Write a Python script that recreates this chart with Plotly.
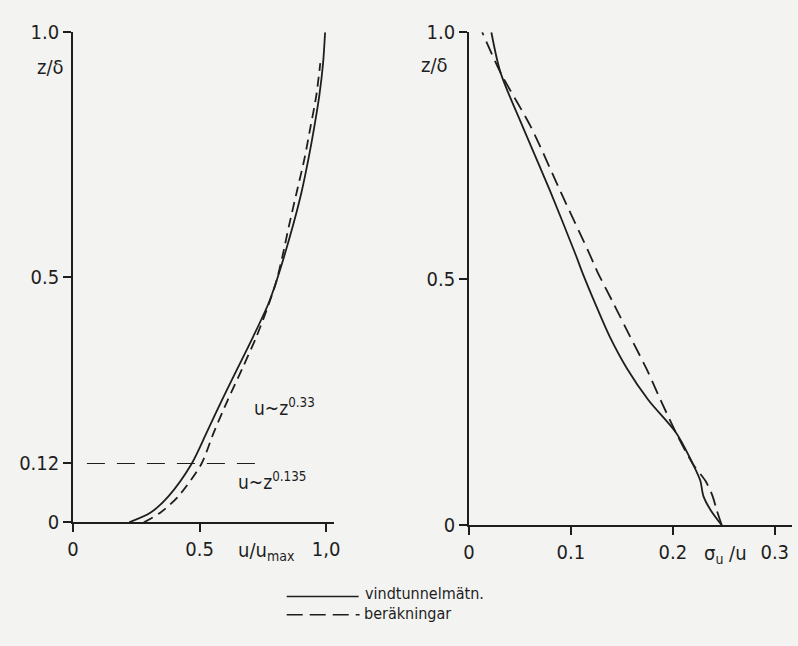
import plotly.graph_objects as go

# ---- data ----
# left panel: velocity profile u/umax vs z/delta
z_left_meas = [0.0, 0.020, 0.053, 0.118, 0.183, 0.249, 0.314, 0.379, 0.446, 0.491, 0.544, 0.609, 0.674, 0.741, 0.806, 0.870, 0.937, 1.0]
u_meas = [0.222, 0.307, 0.377, 0.467, 0.528, 0.588, 0.650, 0.712, 0.772, 0.803, 0.835, 0.871, 0.903, 0.930, 0.953, 0.973, 0.988, 0.996]
z_left_calc = [0.0, 0.020, 0.053, 0.118, 0.183, 0.249, 0.314, 0.379, 0.446, 0.491, 0.544, 0.609, 0.674, 0.741, 0.806, 0.870, 0.937]
u_calc = [0.28, 0.346, 0.416, 0.506, 0.556, 0.611, 0.669, 0.725, 0.774, 0.803, 0.828, 0.855, 0.884, 0.914, 0.938, 0.961, 0.977]
ref_line_z = [0.12, 0.12]
ref_line_u = [0.055, 0.76]

# right panel: turbulence intensity sigma_u/u vs z/delta
z_right_meas = [0.0, 0.031, 0.059, 0.090, 0.123, 0.188, 0.254, 0.318, 0.383, 0.449, 0.514, 0.547, 0.676, 0.807, 0.918, 1.0]
s_meas = [0.248, 0.237, 0.230, 0.227, 0.220, 0.203, 0.176, 0.155, 0.138, 0.124, 0.111, 0.105, 0.080, 0.053, 0.031, 0.022]
z_right_calc = [0.0, 0.031, 0.059, 0.090, 0.123, 0.188, 0.254, 0.318, 0.383, 0.449, 0.514, 0.547, 0.676, 0.807, 0.918, 1.0]
s_calc = [0.248, 0.243, 0.239, 0.232, 0.220, 0.203, 0.188, 0.174, 0.158, 0.142, 0.126, 0.119, 0.090, 0.061, 0.031, 0.013]

left_yticks = [0, 0.12, 0.5, 1.0]
left_yticktext = ["0", "0.12", "0.5", "1.0"]
left_xticks = [0, 0.5, 1.0]
left_xticktext = ["0", "0.5", "1,0"]
right_yticks = [0, 0.5, 1.0]
right_yticktext = ["0", "0.5", "1.0"]
right_xticks = [0, 0.1, 0.2, 0.3]
right_xticktext = ["0", "0.1", "0.2", "0.3"]

ink = "#1e1e1e"
bg = "#f3f3f1"
FONT = "DejaVu Sans Condensed, Liberation Sans Narrow, DejaVu Sans, sans-serif"

fig = go.Figure()
fig.add_trace(go.Scatter(x=u_meas, y=z_left_meas, mode="lines", line=dict(color=ink, width=1.8, shape="spline", smoothing=0.8),
                         xaxis="x", yaxis="y", showlegend=False))
fig.add_trace(go.Scatter(x=u_calc, y=z_left_calc, mode="lines", line=dict(color=ink, width=1.8, dash="10px,6px", shape="spline", smoothing=0.8),
                         xaxis="x", yaxis="y", showlegend=False))
fig.add_trace(go.Scatter(x=ref_line_u, y=ref_line_z, mode="lines", line=dict(color=ink, width=1.2, dash="18px,12px"),
                         xaxis="x", yaxis="y", showlegend=False))
fig.add_trace(go.Scatter(x=s_meas, y=z_right_meas, mode="lines", line=dict(color=ink, width=1.8, shape="spline", smoothing=0.8),
                         xaxis="x2", yaxis="y2", showlegend=False))
fig.add_trace(go.Scatter(x=s_calc, y=z_right_calc, mode="lines", line=dict(color=ink, width=1.8, dash="14px,7px", shape="spline", smoothing=0.8),
                         xaxis="x2", yaxis="y2", showlegend=False))

W, H = 798, 646
def px(x): return x / W
def py(y): return 1 - y / H

axis_common = dict(showgrid=False, zeroline=False, showline=True, linecolor=ink, linewidth=1.5,
                   ticks="outside", ticklen=8, tickwidth=1.5, tickcolor=ink,
                   tickfont=dict(family=FONT, size=20, color=ink), fixedrange=True)

fig.update_layout(
    width=W, height=H, margin=dict(l=0, r=0, t=0, b=0),
    paper_bgcolor=bg, plot_bgcolor=bg,
    xaxis=dict(domain=[px(68), px(333)], range=[0, 265 / 257], anchor="y",
               tickvals=left_xticks, ticktext=left_xticktext, **axis_common),
    yaxis=dict(domain=[py(530), py(21)], range=[0, 1], anchor="x",
               tickvals=left_yticks, ticktext=left_yticktext, **axis_common),
    xaxis2=dict(domain=[px(470), 1.0], range=[0, 328 / 1035], anchor="y2",
                tickvals=right_xticks, ticktext=right_xticktext, **axis_common),
    yaxis2=dict(domain=[py(533), py(21)], range=[0, 1], anchor="x2",
                tickvals=right_yticks, ticktext=right_yticktext, **axis_common),
)

def ann(text, x, y, size=20, xanchor="center"):
    fig.add_annotation(text=text, x=px(x), y=py(y), xref="paper", yref="paper", showarrow=False,
                       xanchor=xanchor, yanchor="middle", font=dict(family=FONT, size=size, color=ink))

ann("z/δ", 45, 57)
ann("z/δ", 435, 55)
ann("u/u<sub>max</sub>", 264, 560)
ann("σ<sub>u</sub> /u", 730, 563)
ann("u~z<sup>0.33</sup>", 283, 410, size=19)
ann("u~z<sup>0.135</sup>", 270, 487, size=19)

# legend
fig.add_shape(type="line", xref="paper", yref="paper", x0=px(285), x1=px(358), y0=py(607), y1=py(607),
              line=dict(color=ink, width=1.6))
fig.add_shape(type="line", xref="paper", yref="paper", x0=px(285), x1=px(359), y0=py(626), y1=py(626),
              line=dict(color=ink, width=1.6, dash="16px,7px"))
ann("vindtunnelmätn.", 362, 604, size=16, xanchor="left")
ann("beräkningar", 361, 625, size=16, xanchor="left")

fig.write_html("out.html")
